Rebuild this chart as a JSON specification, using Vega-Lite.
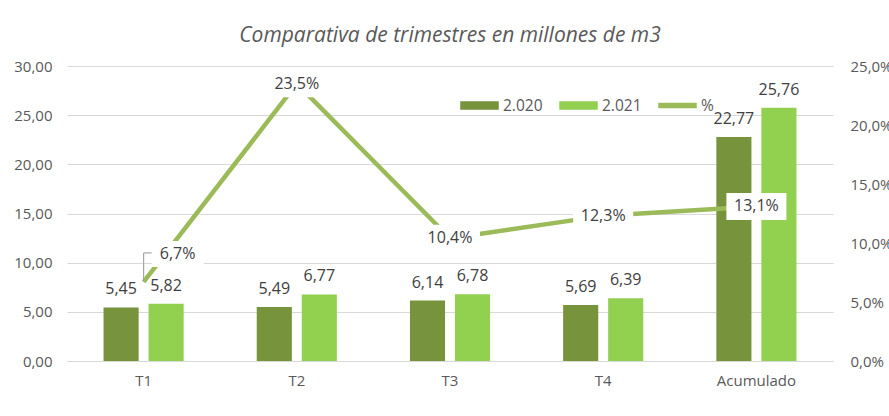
{
  "$schema": "https://vega.github.io/schema/vega-lite/v6.json",
  "width": 766,
  "height": 295,
  "autosize": {"type": "none"},
  "padding": {"left": 67, "top": 66, "right": 56, "bottom": 55},
  "background": "white",
  "config": {
    "locale": {"number": {"decimal": ",", "thousands": ".", "grouping": [3], "currency": ["", " €"]}},
    "view": {"stroke": null},
    "font": "Open Sans",
    "axis": {"labelFont": "Open Sans", "labelColor": "#595959", "labelFontSize": 15, "domain": false, "ticks": false, "grid": false, "title": null}
  },
  "title": {"text": "Comparativa de trimestres en millones de m3", "fontSize": 21, "fontStyle": "italic", "fontWeight": "normal", "color": "#595959", "font": "Open Sans", "anchor": "middle", "offset": 13},
  "datasets": {
    "bars": [
      {"cat": "T1", "serie": "2.020", "value": 5.45},
      {"cat": "T1", "serie": "2.021", "value": 5.82},
      {"cat": "T2", "serie": "2.020", "value": 5.49},
      {"cat": "T2", "serie": "2.021", "value": 6.77},
      {"cat": "T3", "serie": "2.020", "value": 6.14},
      {"cat": "T3", "serie": "2.021", "value": 6.78},
      {"cat": "T4", "serie": "2.020", "value": 5.69},
      {"cat": "T4", "serie": "2.021", "value": 6.39},
      {"cat": "Acumulado", "serie": "2.020", "value": 22.77},
      {"cat": "Acumulado", "serie": "2.021", "value": 25.76}
    ],
    "pct": [
      {"cat": "T1", "pct": 0.067},
      {"cat": "T2", "pct": 0.235},
      {"cat": "T3", "pct": 0.104},
      {"cat": "T4", "pct": 0.123},
      {"cat": "Acumulado", "pct": 0.131}
    ]
  },
  "encoding": {
    "x": {"field": "cat", "type": "nominal", "sort": ["T1", "T2", "T3", "T4", "Acumulado"], "scale": {"paddingInner": 0.477, "paddingOuter": 0.2385}, "axis": {"labelAngle": 0, "domain": true, "domainColor": "#D9D9D9", "domainWidth": 1.2, "labelPadding": 12}}
  },
  "layer": [
    {
      "data": {"name": "bars"},
      "encoding": {
        "xOffset": {"field": "serie", "type": "nominal", "scale": {"paddingInner": 0.22, "paddingOuter": 0}},
        "y": {"field": "value", "type": "quantitative", "scale": {"domain": [0, 30], "nice": false}, "axis": {"orient": "left", "values": [0, 5, 10, 15, 20, 25, 30], "format": ".2f", "grid": true, "gridColor": "#D9D9D9", "gridWidth": 1.2, "labelPadding": 15}}
      },
      "layer": [
        {
          "mark": {"type": "bar"},
          "encoding": {
            "color": {"field": "serie", "type": "nominal", "scale": {"domain": ["2.020", "2.021", "%"], "range": ["#77933C", "#92D050", "#9BBB59"]},
              "legend": {"orient": "none", "legendX": 393, "legendY": 20, "direction": "horizontal", "columns": 3, "title": null, "symbolSize": 1369, "labelFontSize": 15.5, "labelColor": "#595959", "labelFont": "Open Sans", "columnPadding": 14, "labelOffset": 4,
                "encode": {"symbols": {"update": {"shape": {"signal": "datum.value === '%' ? 'M-1,-0.11H1V0.11H-1Z' : 'M-1,-0.19H1V0.19H-1Z'"}, "fill": {"scale": "color", "field": "value"}, "stroke": {"value": "transparent"}, "opacity": {"value": 1}}}}}}
          }
        },
        {
          "mark": {"type": "text", "baseline": "middle", "dy": -18, "fontSize": 16, "color": "#404040", "font": "Open Sans"},
          "encoding": {"text": {"field": "value", "type": "quantitative", "format": ".2f"}}
        }
      ]
    },
    {
      "data": {"name": "pct"},
      "encoding": {
        "y": {"field": "pct", "type": "quantitative", "scale": {"domain": [0, 0.25], "nice": false}, "axis": {"orient": "right", "values": [0, 0.05, 0.1, 0.15, 0.2, 0.25], "format": ".1%", "labelPadding": 17}}
      },
      "layer": [
        {
          "mark": {"type": "line", "strokeWidth": 4.5, "strokeJoin": "round"},
          "encoding": {"color": {"datum": "%", "type": "nominal"}}
        },
        {
          "transform": [{"filter": "datum.cat === 'T1'"}],
          "mark": {"type": "rule", "color": "#A6A6A6", "strokeWidth": 1.2, "y2Offset": -29},
          "encoding": {"y2": {"field": "pct"}}
        },
        {
          "transform": [{"filter": "datum.cat === 'T1'"}],
          "mark": {"type": "rule", "color": "#A6A6A6", "strokeWidth": 1.2, "yOffset": -29, "x2Offset": 9},
          "encoding": {"x2": {"field": "cat"}}
        },
        {
          "transform": [{"filter": "datum.cat !== 'T1'"}],
          "mark": {"type": "point", "shape": "M-1,-0.45H1V0.45H-1Z", "size": 3600, "filled": true, "color": "white", "opacity": 1, "strokeWidth": 0}
        },
        {
          "transform": [{"filter": "datum.cat === 'T1'"}],
          "mark": {"type": "point", "shape": "M-1,-0.5H1V0.5H-1Z", "size": 2704, "filled": true, "color": "white", "opacity": 1, "strokeWidth": 0, "xOffset": 34, "yOffset": -28}
        },
        {
          "transform": [{"filter": "datum.cat !== 'T1'"}],
          "mark": {"type": "text", "fontSize": 16, "color": "#404040", "font": "Open Sans", "baseline": "middle"},
          "encoding": {"text": {"field": "pct", "type": "quantitative", "format": ".1%"}}
        },
        {
          "transform": [{"filter": "datum.cat === 'T1'"}],
          "mark": {"type": "text", "fontSize": 16, "color": "#404040", "font": "Open Sans", "baseline": "middle", "dx": 34, "dy": -28},
          "encoding": {"text": {"field": "pct", "type": "quantitative", "format": ".1%"}}
        }
      ]
    }
  ],
  "resolve": {"scale": {"y": "independent"}}
}
